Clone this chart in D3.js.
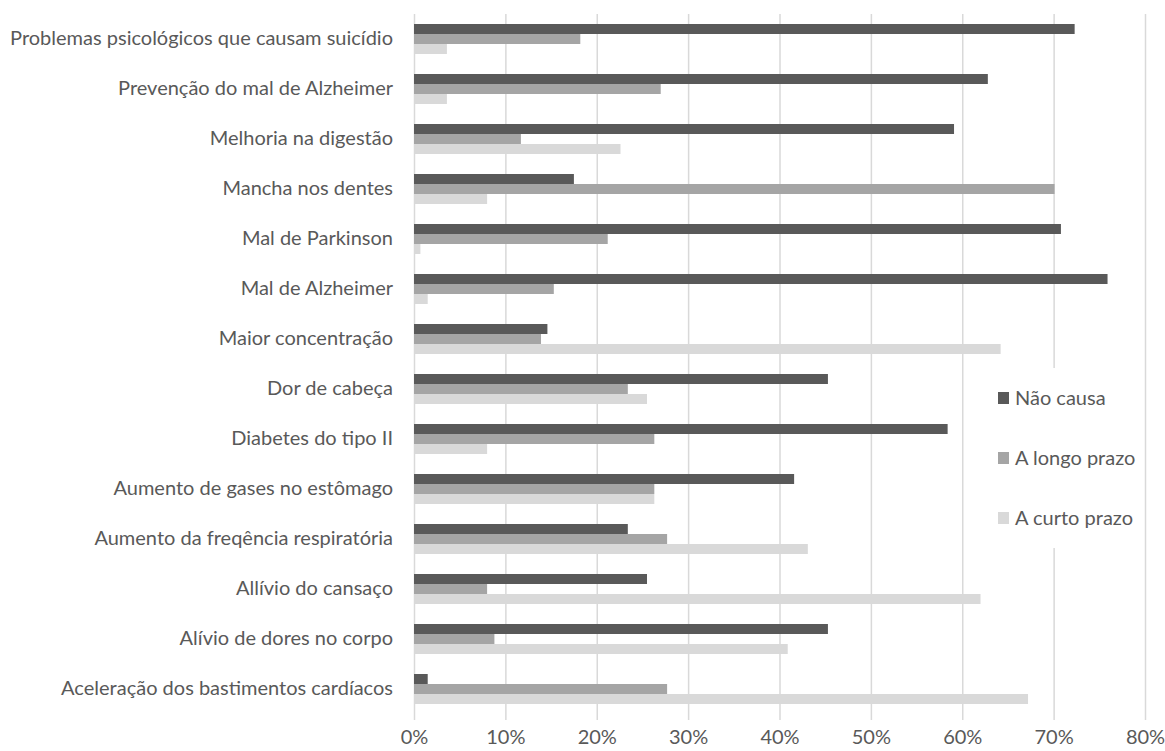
<!DOCTYPE html>
<html>
<head>
<meta charset="utf-8">
<script src="https://cdn.jsdelivr.net/npm/d3@7"></script>
<style>
  body { margin: 0; background: #fff; }
  text { font-family: Lato, "Open Sans", sans-serif; fill: #595959; }
</style>
</head>
<body>
<div id="container"></div>
<script>
/**
 * CONSTANTS AND DATA
 * */
const width = 1165,
  height = 751;

const categories = [
  "Problemas psicológicos que causam suicídio",
  "Prevenção do mal de Alzheimer",
  "Melhoria na digestão",
  "Mancha nos dentes",
  "Mal de Parkinson",
  "Mal de Alzheimer",
  "Maior concentração",
  "Dor de cabeça",
  "Diabetes do tipo II",
  "Aumento de gases no estômago",
  "Aumento da freqência respiratória",
  "Allívio do cansaço",
  "Alívio de dores no corpo",
  "Aceleração dos bastimentos cardíacos"
];

const seriesNames = ["Não causa", "A longo prazo", "A curto prazo"];

// percent values
const naoCausa = [72.3, 62.8, 59.1, 17.5, 70.8, 75.9, 14.6, 45.3, 58.4, 41.6, 23.4, 25.5, 45.3, 1.5];
const longoPrazo = [18.2, 27.0, 11.7, 70.1, 21.2, 15.3, 13.9, 23.4, 26.3, 26.3, 27.7, 8.0, 8.8, 27.7];
const curtoPrazo = [3.6, 3.6, 22.6, 8.0, 0.7, 1.5, 64.2, 25.5, 8.0, 26.3, 43.1, 62.0, 40.9, 67.2];

const xTicks = [0, 10, 20, 30, 40, 50, 60, 70, 80];
const colors = ["#595959", "#a5a5a5", "#d9d9d9"];

const seriesValues = [naoCausa, longoPrazo, curtoPrazo];

const svg = d3.select("#container")
  .append("svg")
  .attr("width", width)
  .attr("height", height);

// scales
const x = d3.scaleLinear().domain([0, 80]).range([414, 1145]);

const y = d3.scaleBand()
  .domain(categories)
  .range([14, 714])
  .paddingInner(0.4)
  .paddingOuter(0.2);

const ySub = d3.scaleBand()
  .domain(seriesNames)
  .range([0, y.bandwidth()]);

// gridlines + tick labels
const xAxis = svg.append("g")
  .attr("transform", "translate(0,720)")
  .call(d3.axisBottom(x)
    .tickValues(xTicks)
    .tickSize(-706)
    .tickPadding(10)
    .tickFormat(d => d + "%"));

xAxis.select(".domain").remove();
xAxis.selectAll(".tick line")
  .attr("stroke", "#d9d9d9")
  .attr("stroke-width", 1.5);
xAxis.selectAll(".tick text")
  .style("font-size", "20px")
  .attr("fill", "#595959");

// category labels
const yAxis = svg.append("g")
  .attr("transform", "translate(393,0)")
  .call(d3.axisLeft(y).tickSize(0).tickPadding(0));

yAxis.select(".domain").remove();
yAxis.selectAll(".tick text")
  .style("font-size", "20px")
  .attr("fill", "#595959");

// legend (white box over the gridlines)
const legend = svg.append("g");

legend.append("rect")
  .attr("x", 990)
  .attr("y", 368)
  .attr("width", 146)
  .attr("height", 180)
  .attr("fill", "#fff");

const item = legend.selectAll("g.item")
  .data(seriesNames)
  .join("g")
  .attr("class", "item")
  .attr("transform", (d, i) => `translate(998,${398 + i * 60})`);

item.append("rect")
  .attr("x", 0)
  .attr("y", -6)
  .attr("width", 11)
  .attr("height", 12)
  .attr("fill", (d, i) => colors[i]);

item.append("text")
  .attr("x", 17)
  .attr("dy", "0.35em")
  .style("font-size", "20px")
  .text(d => d);

// bars
const group = svg.append("g")
  .selectAll("g")
  .data(categories)
  .join("g")
  .attr("transform", d => `translate(0,${y(d)})`);

group.selectAll("rect")
  .data((d, i) => seriesNames.map((s, j) => ({ series: s, value: seriesValues[j][i], idx: j })))
  .join("rect")
  .attr("x", x(0))
  .attr("y", d => ySub(d.series))
  .attr("width", d => x(d.value) - x(0))
  .attr("height", ySub.bandwidth())
  .attr("fill", d => colors[d.idx]);
</script>
</body>
</html>
